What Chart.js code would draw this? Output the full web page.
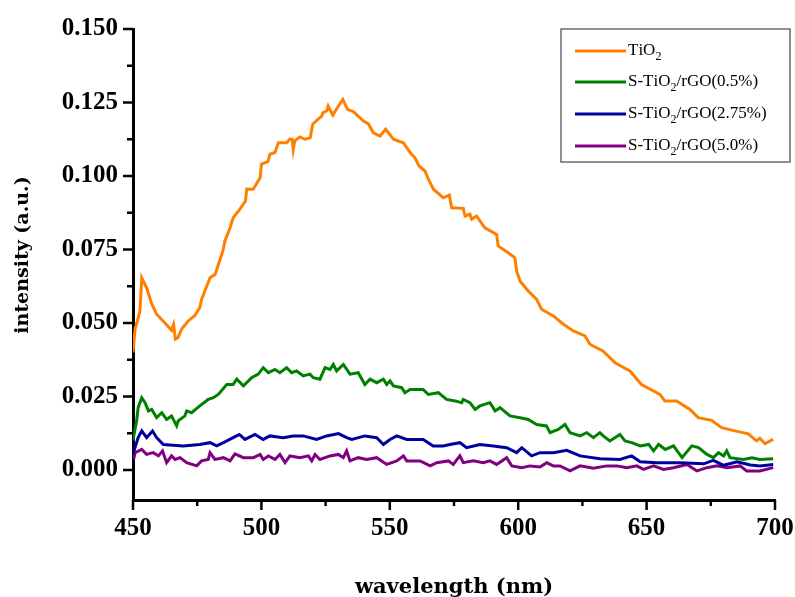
<!DOCTYPE html>
<html>
<head>
<meta charset="utf-8">
<script src="https://cdn.jsdelivr.net/npm/chart.js@4.4.1/dist/chart.umd.min.js"></script>
<style>
  body { margin: 0; background: #fff; }
  #wrap { width: 795px; height: 597px; }
</style>
</head>
<body>
<div id="wrap"><canvas id="spec" width="795" height="597"></canvas></div>
<script>
// names of the samples (₂ is drawn as a subscript in the legend)
const seriesNames = ['TiO₂', 'S-TiO₂/rGO(0.5%)', 'S-TiO₂/rGO(2.75%)', 'S-TiO₂/rGO(5.0%)'];
const seriesColors = ['#ff8000', '#008000', '#0000a0', '#800080'];

// axis ticks
const xTicks = [450, 475, 500, 525, 550, 575, 600, 625, 650, 675, 700];
const yTicks = [0, 0.0125, 0.025, 0.0375, 0.05, 0.0625, 0.075, 0.0875, 0.1, 0.1125, 0.125, 0.1375, 0.15];

// TiO2
const tio2X = [450.0, 450.8, 451.5, 452.7, 453.4, 455.3, 457.3, 459.2, 461.7, 463.5, 465.0, 465.8, 466.5, 467.5, 469.0,
  471.5, 474.0, 476.0, 476.7, 480.0, 482.0, 485.0, 485.8, 487.8, 489.0, 491.7, 493.8, 494.3, 496.8, 499.5, 500.0,
  502.6, 503.3, 505.3, 506.6, 509.8, 511.0, 512.0, 512.4, 513.0, 515.0, 517.0, 519.0, 520.0, 522.0, 523.5, 523.9,
  525.4, 526.0, 527.8, 530.0, 531.7, 533.6, 535.8, 538.4, 539.7, 541.6, 543.6, 546.2, 548.4, 551.4, 553.3, 555.3,
  557.9, 559.8, 561.4, 563.7, 565.0, 567.0, 570.8, 573.2, 574.1, 578.6, 579.3, 581.2, 581.9, 583.8, 587.0, 591.6,
  592.2, 596.1, 598.7, 599.4, 600.7, 603.9, 607.2, 609.1, 613.7, 617.6, 621.5, 626.0, 628.0, 633.0, 637.7, 643.5,
  648.0, 655.2, 657.1, 661.7, 666.9, 670.1, 675.3, 679.2, 684.4, 689.6, 692.8, 694.1, 696.1, 699.3];
const tio2Y = [0.0400, 0.0480, 0.0500, 0.0540, 0.0654, 0.0620, 0.0565, 0.0530, 0.0507, 0.0490, 0.0475, 0.0495, 0.0445, 0.0450, 0.0480,
  0.0507, 0.0525, 0.0552, 0.0580, 0.0654, 0.0666, 0.0745, 0.0779, 0.0824, 0.0858, 0.0888, 0.0915, 0.0956, 0.0955, 0.0994, 0.1040,
  0.1050, 0.1074, 0.1080, 0.1113, 0.1113, 0.1125, 0.1125, 0.1090, 0.1120, 0.1133, 0.1125, 0.1130, 0.1176, 0.1193, 0.1204, 0.1215,
  0.1221, 0.1238, 0.1207, 0.1238, 0.1260, 0.1226, 0.1219, 0.1198, 0.1187, 0.1178, 0.1147, 0.1136, 0.1159, 0.1125, 0.1119, 0.1113,
  0.1080, 0.1062, 0.1034, 0.1017, 0.0989, 0.0955, 0.0926, 0.0935, 0.0892, 0.0890, 0.0864, 0.0870, 0.0853, 0.0864, 0.0824, 0.0801,
  0.0762, 0.0739, 0.0722, 0.0677, 0.0643, 0.0609, 0.0580, 0.0547, 0.0524, 0.0496, 0.0473, 0.0456, 0.0427, 0.0405, 0.0365, 0.0337,
  0.0291, 0.0257, 0.0235, 0.0235, 0.0206, 0.0178, 0.0169, 0.0144, 0.0133, 0.0123, 0.0099, 0.0108, 0.0090, 0.0104];

// S-TiO2/rGO(0.5%)
const rgo05X = [450.0, 450.4, 451.4, 452.0, 453.4, 454.7, 456.0, 457.3, 459.2, 461.2, 463.1, 465.0, 467.0, 467.6, 470.2,
  470.9, 472.8, 476.0, 479.3, 481.3, 483.2, 486.5, 489.0, 490.4, 493.0, 496.2, 498.8, 500.7, 502.7, 505.3, 507.2,
  509.8, 511.8, 513.7, 516.3, 518.9, 520.2, 522.8, 524.8, 526.7, 528.0, 529.3, 531.9, 534.5, 537.7, 540.3, 542.3,
  544.9, 547.5, 548.8, 550.1, 551.4, 554.6, 555.9, 557.9, 563.0, 565.0, 568.9, 572.1, 575.4, 578.0, 578.6, 581.2,
  583.2, 585.1, 589.0, 591.0, 592.9, 596.8, 600.7, 603.9, 607.2, 611.0, 612.4, 615.6, 618.2, 620.2, 624.1, 626.7,
  629.3, 631.8, 633.1, 635.7, 639.6, 641.6, 644.2, 647.5, 650.8, 652.7, 654.7, 657.3, 660.5, 663.8, 667.6, 670.2,
  673.5, 676.0, 678.0, 680.0, 681.2, 682.5, 687.7, 691.0, 694.1, 699.3];
const rgo05Y = [0.0100, 0.0121, 0.0167, 0.0212, 0.0246, 0.0229, 0.0201, 0.0206, 0.0178, 0.0195, 0.0172, 0.0184, 0.0150, 0.0167, 0.0184,
  0.0201, 0.0195, 0.0218, 0.0240, 0.0246, 0.0257, 0.0291, 0.0291, 0.0309, 0.0286, 0.0314, 0.0326, 0.0348, 0.0331, 0.0342, 0.0331,
  0.0348, 0.0331, 0.0337, 0.0320, 0.0326, 0.0314, 0.0309, 0.0348, 0.0342, 0.0359, 0.0337, 0.0359, 0.0326, 0.0331, 0.0291, 0.0309,
  0.0297, 0.0309, 0.0291, 0.0303, 0.0286, 0.0280, 0.0263, 0.0274, 0.0274, 0.0257, 0.0263, 0.0240, 0.0235, 0.0229, 0.0240, 0.0229,
  0.0206, 0.0218, 0.0229, 0.0201, 0.0212, 0.0184, 0.0178, 0.0172, 0.0155, 0.0150, 0.0127, 0.0138, 0.0155, 0.0127, 0.0116, 0.0127,
  0.0110, 0.0127, 0.0116, 0.0099, 0.0121, 0.0099, 0.0093, 0.0082, 0.0087, 0.0065, 0.0087, 0.0070, 0.0082, 0.0042, 0.0082, 0.0076,
  0.0053, 0.0042, 0.0059, 0.0048, 0.0065, 0.0042, 0.0036, 0.0042, 0.0036, 0.0038];

// S-TiO2/rGO(2.75%)
const rgo275X = [450.0, 450.4, 452.0, 453.4, 455.3, 457.6, 459.2, 461.8, 469.6, 476.0, 480.0, 482.6, 485.2, 489.0, 491.4,
  493.6, 497.5, 500.7, 503.3, 508.5, 512.4, 516.3, 521.5, 525.4, 530.0, 533.2, 535.2, 540.3, 544.9, 547.5, 550.1,
  552.7, 556.6, 563.0, 566.9, 570.8, 573.4, 577.3, 579.9, 585.1, 590.3, 595.5, 599.4, 601.4, 605.2, 608.5, 613.7,
  618.9, 624.1, 631.8, 639.6, 644.2, 647.5, 653.9, 663.2, 672.2, 676.0, 680.0, 685.2, 690.4, 694.1, 699.3];
const rgo275Y = [0.0055, 0.0065, 0.0110, 0.0133, 0.0110, 0.0133, 0.0110, 0.0087, 0.0082, 0.0087, 0.0093, 0.0082, 0.0093, 0.0110, 0.0121,
  0.0104, 0.0121, 0.0104, 0.0116, 0.0110, 0.0116, 0.0116, 0.0104, 0.0116, 0.0124, 0.0110, 0.0104, 0.0116, 0.0110, 0.0087, 0.0104,
  0.0116, 0.0104, 0.0104, 0.0082, 0.0082, 0.0087, 0.0093, 0.0076, 0.0087, 0.0082, 0.0076, 0.0059, 0.0076, 0.0048, 0.0059, 0.0059,
  0.0067, 0.0048, 0.0038, 0.0036, 0.0048, 0.0028, 0.0025, 0.0025, 0.0021, 0.0033, 0.0016, 0.0028, 0.0017, 0.0014, 0.0019];

// S-TiO2/rGO(5.0%)
const rgo50X = [450.0, 450.4, 450.8, 453.4, 455.3, 457.9, 459.9, 461.5, 463.1, 465.0, 466.4, 468.3, 470.9, 474.8, 476.7,
  479.3, 480.0, 481.9, 485.2, 487.8, 489.7, 493.0, 496.9, 499.5, 500.7, 502.7, 505.3, 507.2, 509.2, 511.1, 515.0,
  518.3, 519.6, 520.9, 522.8, 526.7, 530.0, 531.9, 533.2, 534.5, 537.7, 541.0, 544.9, 548.8, 552.7, 555.3, 556.6,
  561.8, 565.7, 568.3, 572.8, 574.7, 577.3, 578.6, 582.5, 586.4, 589.0, 591.6, 595.5, 597.5, 601.4, 604.6, 608.5,
  611.1, 613.7, 616.3, 620.2, 624.1, 629.3, 634.5, 638.4, 642.3, 646.2, 648.8, 652.7, 656.6, 660.5, 665.7, 669.6,
  673.5, 677.4, 681.3, 686.4, 689.0, 694.1, 699.3];
const rgo50Y = [0.0040, 0.0042, 0.0059, 0.0070, 0.0053, 0.0059, 0.0048, 0.0065, 0.0025, 0.0048, 0.0036, 0.0042, 0.0025, 0.0014, 0.0031,
  0.0036, 0.0059, 0.0036, 0.0042, 0.0031, 0.0055, 0.0042, 0.0042, 0.0053, 0.0036, 0.0048, 0.0036, 0.0053, 0.0025, 0.0048, 0.0042,
  0.0048, 0.0031, 0.0053, 0.0036, 0.0048, 0.0053, 0.0042, 0.0065, 0.0031, 0.0042, 0.0036, 0.0042, 0.0019, 0.0031, 0.0048, 0.0031,
  0.0031, 0.0014, 0.0025, 0.0031, 0.0019, 0.0048, 0.0025, 0.0031, 0.0025, 0.0031, 0.0019, 0.0042, 0.0014, 0.0008, 0.0014, 0.0010,
  0.0025, 0.0014, 0.0014, -0.0003, 0.0014, 0.0006, 0.0014, 0.0014, 0.0008, 0.0014, 0.0002, 0.0014, 0.0002, 0.0008, 0.0019, -0.0003,
  0.0008, 0.0014, 0.0008, 0.0014, -0.0003, -0.0003, 0.0008];

const allX = [tio2X, rgo05X, rgo275X, rgo50X];
const allY = [tio2Y, rgo05Y, rgo275Y, rgo50Y];

function pairs(xs, ys) {
    return xs.map((x, i) => ({ x: x, y: ys[i] }));
}

const datasets = seriesNames.map((name, i) => ({
    label: name,
    data: pairs(allX[i], allY[i]),
    borderColor: seriesColors[i],
    backgroundColor: seriesColors[i],
    borderWidth: 3,
    pointRadius: 0,
    tension: 0,
    fill: false
}));

// tick marks (long for labelled ticks, short for the others), y title and legend box
const decorPlugin = {
    id: 'decor',
    afterDraw(chart) {
        const ctx = chart.ctx;
        const xs = chart.scales.x, ys = chart.scales.y;
        const area = chart.chartArea;
        ctx.save();
        ctx.strokeStyle = '#000';
        ctx.lineWidth = 2.5;
        xs.ticks.forEach(t => {
            const px = xs.getPixelForValue(t.value);
            const len = (t.value % 50 === 0) ? 10 : 6;
            ctx.beginPath();
            ctx.moveTo(px, area.bottom);
            ctx.lineTo(px, area.bottom + len);
            ctx.stroke();
        });
        ys.ticks.forEach(t => {
            const py = ys.getPixelForValue(t.value);
            const len = t.label ? 10 : 6;
            ctx.beginPath();
            ctx.moveTo(area.left, py);
            ctx.lineTo(area.left - len, py);
            ctx.stroke();
        });

        // y axis title
        ctx.fillStyle = '#000';
        ctx.font = 'bold 19px "DejaVu Serif"';
        ctx.textAlign = 'center';
        ctx.textBaseline = 'middle';
        ctx.translate(23, 255);
        ctx.rotate(-Math.PI / 2);
        ctx.fillText('intensity (a.u.)', 0, 0);
        ctx.restore();

        // legend
        ctx.save();
        ctx.strokeStyle = '#555';
        ctx.lineWidth = 1.3;
        ctx.strokeRect(561, 29, 229, 133);
        const rowY = [51, 82, 114, 146];
        seriesNames.forEach((name, i) => {
            const y = rowY[i];
            ctx.strokeStyle = seriesColors[i];
            ctx.lineWidth = 3;
            ctx.beginPath();
            ctx.moveTo(575, y);
            ctx.lineTo(626, y);
            ctx.stroke();
            let x = 628;
            ctx.fillStyle = '#000';
            ctx.textAlign = 'left';
            ctx.textBaseline = 'middle';
            for (const ch of name) {
                if (ch === '₂') {
                    ctx.font = '12px "Liberation Serif"';
                    ctx.fillText('2', x, y + 6);
                    x += ctx.measureText('2').width;
                } else {
                    ctx.font = '17px "Liberation Serif"';
                    ctx.fillText(ch, x, y);
                    x += ctx.measureText(ch).width;
                }
            }
        });
        ctx.restore();
    }
};

new Chart(document.getElementById('spec'), {
    type: 'line',
    data: { datasets: datasets },
    options: {
        responsive: false,
        animation: false,
        layout: { padding: { top: 29, right: 20, left: 0, bottom: 0 } },
        plugins: {
            legend: { display: false },
            tooltip: { enabled: false }
        },
        scales: {
            x: {
                type: 'linear',
                min: xTicks[0],
                max: xTicks[xTicks.length - 1],
                afterFit: s => { s.height = 97; s.paddingLeft = 0; s.paddingRight = 0; },
                afterBuildTicks: s => { s.ticks = xTicks.map(v => ({ value: v })); },
                grid: { display: false, drawTicks: false },
                border: { display: true, color: '#000', width: 3 },
                ticks: {
                    padding: 14,
                    color: '#000',
                    maxRotation: 0,
                    autoSkip: false,
                    font: { family: '"Liberation Serif"', weight: 'bold', size: 25 },
                    callback: v => (v % 50 === 0 ? String(v) : '')
                },
                title: {
                    display: true,
                    text: 'wavelength (nm)',
                    color: '#000',
                    font: { family: '"DejaVu Serif"', weight: 'bold', size: 21 },
                    padding: { top: 0, bottom: -3 }
                }
            },
            y: {
                min: -0.0102,
                max: yTicks[yTicks.length - 1],
                afterFit: s => { s.width = 133; s.paddingTop = 0; s.paddingBottom = 0; },
                afterBuildTicks: s => { s.ticks = yTicks.map(v => ({ value: v })); },
                grid: { display: false, drawTicks: false },
                border: { display: true, color: '#000', width: 3 },
                ticks: {
                    padding: 15,
                    color: '#000',
                    autoSkip: false,
                    font: { family: '"Liberation Serif"', weight: 'bold', size: 25 },
                    callback: v => {
                        const k = v / 0.025;
                        return Math.abs(k - Math.round(k)) < 1e-6 ? v.toFixed(3) : '';
                    }
                }
            }
        }
    },
    plugins: [decorPlugin]
});
</script>
</body>
</html>
